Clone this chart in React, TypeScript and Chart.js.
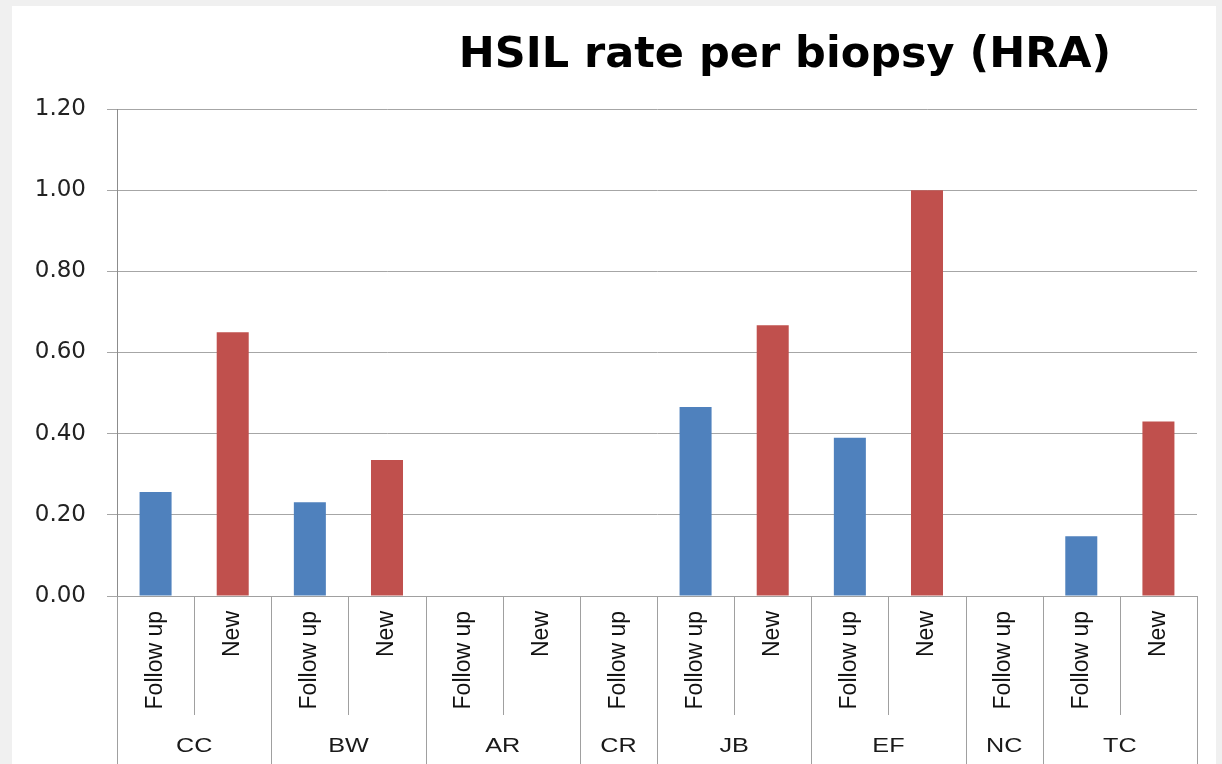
import React, { useEffect, useRef } from "react";
import { Chart, registerables } from "chart.js";

Chart.register(...registerables);

const titleText = "HSIL rate per biopsy (HRA)";
const groups = ["CC", "CC", "BW", "BW", "AR", "AR", "CR", "JB", "JB", "EF", "EF", "NC", "TC", "TC"];
const visitTypes = [
  "Follow up", "New", "Follow up", "New", "Follow up", "New", "Follow up",
  "Follow up", "New", "Follow up", "New", "Follow up", "Follow up", "New",
];
const hsilRates = [0.256, 0.65, 0.231, 0.335, 0, 0, 0, 0.466, 0.667, 0.39, 1.0, 0, 0.147, 0.43];
const yMin = 0;
const yMax = 1.2;
const yStep = 0.2;

const followUpColor = "#4F81BD";
const newColor = "#C0504D";

const decorPlugin = {
  id: "decor",
  afterDraw(chart: any) {
    const ctx = chart.ctx;
    const xs = chart.scales.x;
    const area = chart.chartArea;
    const n = visitTypes.length;
    const step = xs.getPixelForValue(1) - xs.getPixelForValue(0);
    const edge = (i: number) => xs.getPixelForValue(i) - step / 2;
    ctx.save();
    ctx.strokeStyle = "#a0a0a0";
    ctx.lineWidth = 1;
    for (let i = 0; i <= n; i++) {
      const px = Math.round(edge(i)) + 0.5;
      const isGroupEdge = i === 0 || i === n || groups[i] !== groups[i - 1];
      const bottom = isGroupEdge ? chart.height : area.bottom + 119;
      ctx.beginPath();
      ctx.moveTo(px, area.bottom);
      ctx.lineTo(px, bottom);
      ctx.stroke();
    }
    ctx.fillStyle = "#1a1a1a";
    ctx.font = '21px "Liberation Sans"';
    ctx.textAlign = "center";
    ctx.textBaseline = "middle";
    let start = 0;
    for (let i = 1; i <= n; i++) {
      if (i === n || groups[i] !== groups[start]) {
        const cx = (edge(start) + edge(i)) / 2;
        ctx.save();
        ctx.translate(cx, area.bottom + 150);
        ctx.scale(1.2, 1);
        ctx.fillText(groups[start], 0, 0);
        ctx.restore();
        start = i;
      }
    }
    ctx.fillStyle = "#000000";
    ctx.font = 'bold 43px "DejaVu Sans"';
    ctx.textAlign = "center";
    ctx.textBaseline = "alphabetic";
    ctx.fillText(titleText, (area.left + area.right) / 2 + 128, 67);
    ctx.restore();
  },
};

export default function App() {
  const canvasRef = useRef<HTMLCanvasElement | null>(null);

  useEffect(() => {
    if (!canvasRef.current) return;
    const chart = new Chart(canvasRef.current, {
      type: "bar",
      data: {
        labels: visitTypes,
        datasets: [
          {
            label: "HSIL rate",
            data: hsilRates,
            backgroundColor: visitTypes.map((t) => (t === "New" ? newColor : followUpColor)),
            barPercentage: 0.415,
            categoryPercentage: 1,
          },
        ],
      },
      options: {
        responsive: false,
        animation: false,
        layout: { padding: { left: 0, top: 109, right: 25, bottom: 0 } },
        plugins: {
          legend: { display: false },
          title: { display: false },
          tooltip: { enabled: false },
        },
        scales: {
          x: {
            grid: { display: false, drawTicks: false },
            border: { display: true, color: "#a0a0a0" },
            ticks: {
              autoSkip: false,
              minRotation: 90,
              maxRotation: 90,
              padding: 15,
              color: "#111111",
              font: { family: '"Liberation Sans"', size: 23 },
            },
            afterFit: (scale: any) => {
              scale.height = 168;
            },
          },
          y: {
            min: yMin,
            max: yMax,
            ticks: {
              stepSize: yStep,
              padding: 21,
              color: "#222222",
              font: { family: '"DejaVu Sans"', size: 23 },
              callback: (v: any) => Number(v).toFixed(2),
            },
            grid: { color: "#a6a6a6", tickLength: 10, drawTicks: true },
            border: { display: true, color: "#8c8c8c" },
            afterFit: (scale: any) => {
              scale.width = 117;
            },
          },
        },
      },
      plugins: [decorPlugin],
    });
    return () => chart.destroy();
  }, []);

  return (
    <div
      style={{
        position: "absolute",
        left: 0,
        top: 0,
        width: 1222,
        height: 764,
        background: "#f0f0f0",
        overflow: "hidden",
      }}
    >
      <div
        style={{
          position: "absolute",
          left: 12,
          top: 6,
          width: 1204,
          height: 758,
          background: "#ffffff",
        }}
      />
      <canvas
        ref={canvasRef}
        width={1222}
        height={764}
        style={{ position: "absolute", left: 0, top: 0, width: 1222, height: 764 }}
      />
    </div>
  );
}
